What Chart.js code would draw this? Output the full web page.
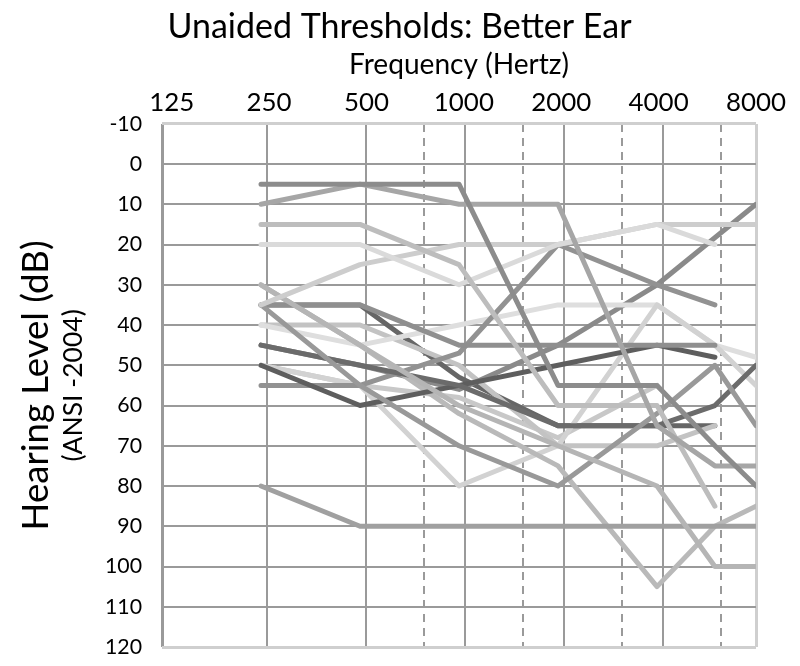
<!DOCTYPE html>
<html><head><meta charset="utf-8">
<script src="https://cdn.jsdelivr.net/npm/chart.js@4.4.1/dist/chart.umd.min.js"></script>
<style>html,body{margin:0;padding:0;background:#fff;}#wrap{width:800px;height:666px;}</style>
</head><body><div id="wrap"><canvas id="c" width="800" height="666"></canvas></div>
<script>
// ---- data ----
const frequencies = [250, 500, 1000, 2000, 4000, 6000, 8000];
const tickLabels = ['125', '250', '500', '1000', '2000', '4000', '8000'];
const octaveGrid = [250, 500, 1000, 2000, 4000];
const halfOctaveGrid = [750, 1500, 3000, 6000];
const yTicks = [-10, 0, 10, 20, 30, 40, 50, 60, 70, 80, 90, 100, 110, 120];

const ear01 = [5, 5, 5, 55, 55, 70, 80];
const ear02 = [10, 5, 10, 10, 65, 75, 75];
const ear03 = [15, 15, 25, 60, 60, 85, null];
const ear04 = [20, 20, 30, 20, 15, 20, null];
const ear05 = [35, 25, 20, 20, 15, null, 15];
const ear06 = [30, 45, 60, 70, 80, 100, 100];
const ear07 = [35, 55, 70, 80, 62, 50, 65];
const ear08 = [35, 35, 45, 45, 45, 45, null];
const ear09 = [45, 50, 55, 65, 65, 60, 50];
const ear10 = [50, 60, 55, 50, 45, 48, null];
const ear11 = [55, 55, 47, 20, 30, 35, null];
const ear12 = [80, 90, 90, 90, 90, 90, 90];
const ear13 = [30, 45, 62, 75, 105, 90, 85];
const ear14 = [50, 55, 80, 70, 35, 45, 55];
const ear15 = [40, 45, 40, 35, 35, 45, 48];
const ear16 = [45, 50, 56, 45, 30, null, 10];
const ear17 = [40, 40, 50, 70, 70, 65, null];
const ear18 = [35, 35, 53, 65, 65, 65, null];
const ear19 = [50, 55, 58, 68, 55, null, null];

const seriesList = [ear01, ear02, ear03, ear04, ear05, ear06, ear07, ear08, ear09,
  ear10, ear11, ear12, ear13, ear14, ear15, ear16, ear17, ear18, ear19];
const seriesColors = ['#8c8c8c', '#a6a6a6', '#bdbdbd', '#dadada', '#cdcdcd', '#b5b5b5',
  '#999999', '#8f8f8f', '#6b6b6b', '#5e5e5e', '#929292', '#a0a0a0', '#b9b9b9',
  '#d2d2d2', '#dedede', '#8a8a8a', '#c3c3c3', '#666666', '#c8c8c8'];

// ---- helpers ----
const FAMILY = 'Lato, "Open Sans", sans-serif';
const mctx = document.createElement('canvas').getContext('2d');
function fitSize(text, width) {
  mctx.font = '100px ' + FAMILY;
  return Math.round(100 * width / mctx.measureText(text).width * 10) / 10;
}
const titleSize = fitSize('Unaided Thresholds: Better Ear', 464);
const freqSize = fitSize('Frequency (Hertz)', 220);
const xTickSize = fitSize('8000', 60);
const yTickSize = fitSize('100', 37);
const yTitleSize = fitSize('Hearing Level (dB)', 290);
const ansiSize = fitSize('(ANSI -2004)', 152);

const shift = Math.pow(2, 6 / 99); // grid drawn slightly right of data positions
const datasets = seriesList.map((s, i) => ({
  data: frequencies.map((f, j) => ({ x: f, y: s[j] })),
  borderColor: seriesColors[i],
  borderWidth: 5,
  pointRadius: 0,
  tension: 0,
  spanGaps: true,
  borderCapStyle: 'round',
  borderJoinStyle: 'round',
  fill: false
}));

const setTicks = (vals) => (scale) => { scale.ticks = vals.map(v => ({ value: v })); };
const isEdge = (c) => c.tick && (c.tick.value === -10 || c.tick.value === 120);

new Chart(document.getElementById('c'), {
  type: 'line',
  data: { datasets },
  options: {
    responsive: false,
    animation: false,
    devicePixelRatio: 1,
    layout: { padding: { left: 0, right: 1, top: 0, bottom: 19 } },
    plugins: {
      legend: { display: false },
      tooltip: { enabled: false },
      title: {
        display: true,
        text: 'Unaided Thresholds: Better Ear',
        color: '#000',
        font: { family: FAMILY, size: titleSize, weight: 'normal' },
        padding: { top: 7, bottom: 0 }
      }
    },
    scales: {
      x: {
        type: 'logarithmic', min: 125, max: 8000, position: 'top',
        afterBuildTicks: setTicks([125, 8000]),
        ticks: { display: false },
        border: { display: false },
        grid: { drawTicks: false, lineWidth: 3, color: (c) => c.tick && c.tick.value === 125 ? '#9a9a9a' : '#cfcfcf' }
      },
      xGrid: {
        type: 'logarithmic', min: 125 / shift, max: 8000 / shift, position: 'top',
        afterBuildTicks: setTicks(octaveGrid),
        ticks: { display: false },
        border: { display: false },
        grid: { drawTicks: false, lineWidth: 2, color: '#9a9a9a' }
      },
      xHalf: {
        type: 'logarithmic', min: 125 / shift, max: 8000 / shift, position: 'top',
        afterBuildTicks: setTicks(halfOctaveGrid),
        ticks: { display: false },
        border: { display: false, dash: [8, 6] },
        grid: { drawTicks: false, lineWidth: 2, color: '#9a9a9a' }
      },
      xLabels: {
        type: 'linear', min: -0.1, max: 6, position: 'top',
        afterBuildTicks: setTicks([0, 1, 2, 3, 4, 5, 6]),
        afterFit: (s) => { s.height = 76; },
        ticks: {
          color: '#000', padding: 6, maxRotation: 0, autoSkip: false,
          font: { family: FAMILY, size: xTickSize },
          callback: (v) => tickLabels[v]
        },
        border: { display: false },
        grid: { display: false, drawTicks: false },
        title: {
          display: true, text: 'Frequency (Hertz)', color: '#000',
          font: { family: FAMILY, size: freqSize }, padding: { top: 0, bottom: 0 }
        }
      },
      y: {
        type: 'linear', reverse: true, min: -10, max: 120, position: 'left',
        afterBuildTicks: setTicks(yTicks),
        afterFit: (s) => { s.width = 104; s.paddingTop = 0; s.paddingBottom = 0; },
        ticks: { color: '#000', padding: 20, font: { family: FAMILY, size: yTickSize } },
        border: { display: false },
        grid: { drawTicks: false, lineWidth: (c) => isEdge(c) ? 3 : 2,
                color: (c) => isEdge(c) ? '#cfcfcf' : '#9a9a9a' },
        title: {
          display: true, text: '(ANSI -2004)', color: '#000',
          font: { family: FAMILY, size: ansiSize }, padding: { top: 0, bottom: 0 }
        }
      },
      yTitle: {
        type: 'linear', min: -10, max: 120, position: 'left', weight: 1,
        afterFit: (s) => { s.width = 58; },
        ticks: { display: false },
        border: { display: false },
        grid: { display: false, drawTicks: false },
        title: {
          display: true, text: 'Hearing Level (dB)', color: '#000',
          font: { family: FAMILY, size: yTitleSize }, padding: { top: 14, bottom: 0 }
        }
      },
      yRight: {
        type: 'linear', min: -10, max: 120, position: 'right',
        afterFit: (s) => { s.width = 43; },
        ticks: { display: false },
        border: { display: false },
        grid: { display: false, drawTicks: false }
      }
    }
  }
});
</script>
</body></html>
